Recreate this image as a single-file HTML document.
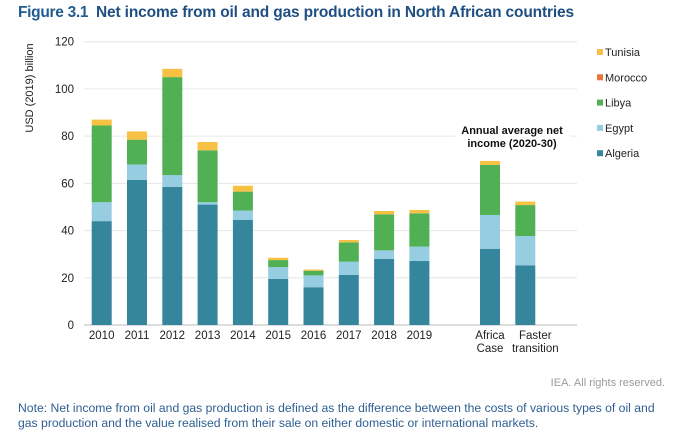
<!DOCTYPE html>
<html><head><meta charset="utf-8"><style>
body{margin:0;width:677px;height:429px;background:#fff;overflow:hidden;font-family:"Liberation Sans",sans-serif;position:relative}
.t{position:absolute;white-space:nowrap}
</style></head><body>
<div class="t" style="left:18px;top:4px;font-size:15.5px;font-weight:bold;color:#1f5c8f;letter-spacing:-0.3px">Figure 3.1</div>
<div class="t" style="left:96px;top:4px;font-size:15.5px;font-weight:bold;color:#1f4f82;letter-spacing:-0.15px">Net income from oil and gas production in North African countries</div>
<svg id="chart" width="677" height="370" style="position:absolute;left:0;top:0" font-family="Liberation Sans, sans-serif"></svg>
<div class="t" style="right:12px;top:377px;font-size:11px;color:#9a9a9a">IEA. All rights reserved.</div>
<div class="t" style="left:18px;top:401px;font-size:12.2px;line-height:15px;color:#2f5f92">Note: Net income from oil and gas production is defined as the difference between the costs of various types of oil and<br>gas production and the value realised from their sale on either domestic or international markets.</div>
<script>
const categories=["2010","2011","2012","2013","2014","2015","2016","2017","2018","2019","","Africa|Case","Faster|transition"];
const algeria=[44,61.5,58.5,51,44.5,19.5,16,21.2,28,27.1,null,32.3,25.3];
const egypt=[8,6.5,5,1,4,5,5,5.6,3.6,6.1,null,14.3,12.4];
const libya=[32.5,10.5,41.5,22,8,3,2,8.2,15.3,14.1,null,21.2,13.1];
const morocco=[0,0,0,0,0,0,0,0,0,0,null,0,0];
const tunisia=[2.5,3.5,3.5,3.5,2.5,1,0.5,1,1.4,1.4,null,1.7,1.5];
const yTicks=[0,20,40,60,80,100,120];
const seriesNames=["Algeria","Egypt","Libya","Morocco","Tunisia"];
const seriesColors=["#35869c","#96cde0","#51b054","#e8743b","#f8c144"];
const series=[algeria,egypt,libya,morocco,tunisia];
const svg=document.getElementById('chart');
const NS='http://www.w3.org/2000/svg';
function mk(tag,attrs,parent){const e=document.createElementNS(NS,tag);for(const k in attrs)e.setAttribute(k,attrs[k]);(parent||svg).appendChild(e);return e;}
const x0=84,x1=577,y0=325,yTop=41.7,yMax=120;
const y=v=>y0-(v/yMax)*(y0-yTop);
const step=35.3,firstC=101.7;
const xc=i=>firstC+i*step;
const bw=20;
yTicks.forEach(t=>{
  if(t>0){const g=mk('line',{x1:x0,x2:x1,y1:y(t),y2:y(t),stroke:'#e6e6e6','stroke-width':1});
  }
  const l=mk('text',{x:74,y:y(t)+4,'text-anchor':'end','font-size':11.5,fill:'#222'});l.textContent=t;
  
});
const ax=mk('line',{x1:x0,x2:x1,y1:y0,y2:y0,stroke:'#bbb','stroke-width':1});

const yt=mk('text',{transform:'translate(33,88) rotate(-90)','text-anchor':'middle','font-size':11,fill:'#222'});yt.textContent='USD (2019) billion';

categories.forEach((c,i)=>{
  if(algeria[i]===null)return;
  let cum=0;
  series.forEach((s,k)=>{
    const v=s[i];if(!v)return;
    const r=mk('rect',{x:xc(i)-bw/2,y:y(cum+v),width:bw,height:y(cum)-y(cum+v),fill:seriesColors[k]});
    
    
    cum+=v;
  });
  const multi=c.indexOf('|')>=0;
  const lx=multi&&c.startsWith('Faster')?xc(i)+10:xc(i);
  c.split('|').forEach((ln,j)=>{
    const t=mk('text',{x:lx,y:339+j*13,'text-anchor':'middle','font-size':11.5,fill:'#222'});t.textContent=ln;
    
    
  });
});
const ab=mk('rect',{x:455,y:122,width:115,height:28,fill:'#fff'});

['Annual average net','income (2020-30)'].forEach((s,j)=>{
  const t=mk('text',{x:512,y:134+j*13,'text-anchor':'middle','font-size':11,'font-weight':'bold',fill:'#111'});t.textContent=s;
  
});
for(let k=4;k>=0;k--){
  const ly=52+(4-k)*25.3;
  const r=mk('rect',{x:597,y:ly-3,width:6,height:6,fill:seriesColors[k]});
  
  const t=mk('text',{x:605,y:ly+4,'font-size':11,fill:'#222'});t.textContent=seriesNames[k];
  
}
</script>
</body></html>
